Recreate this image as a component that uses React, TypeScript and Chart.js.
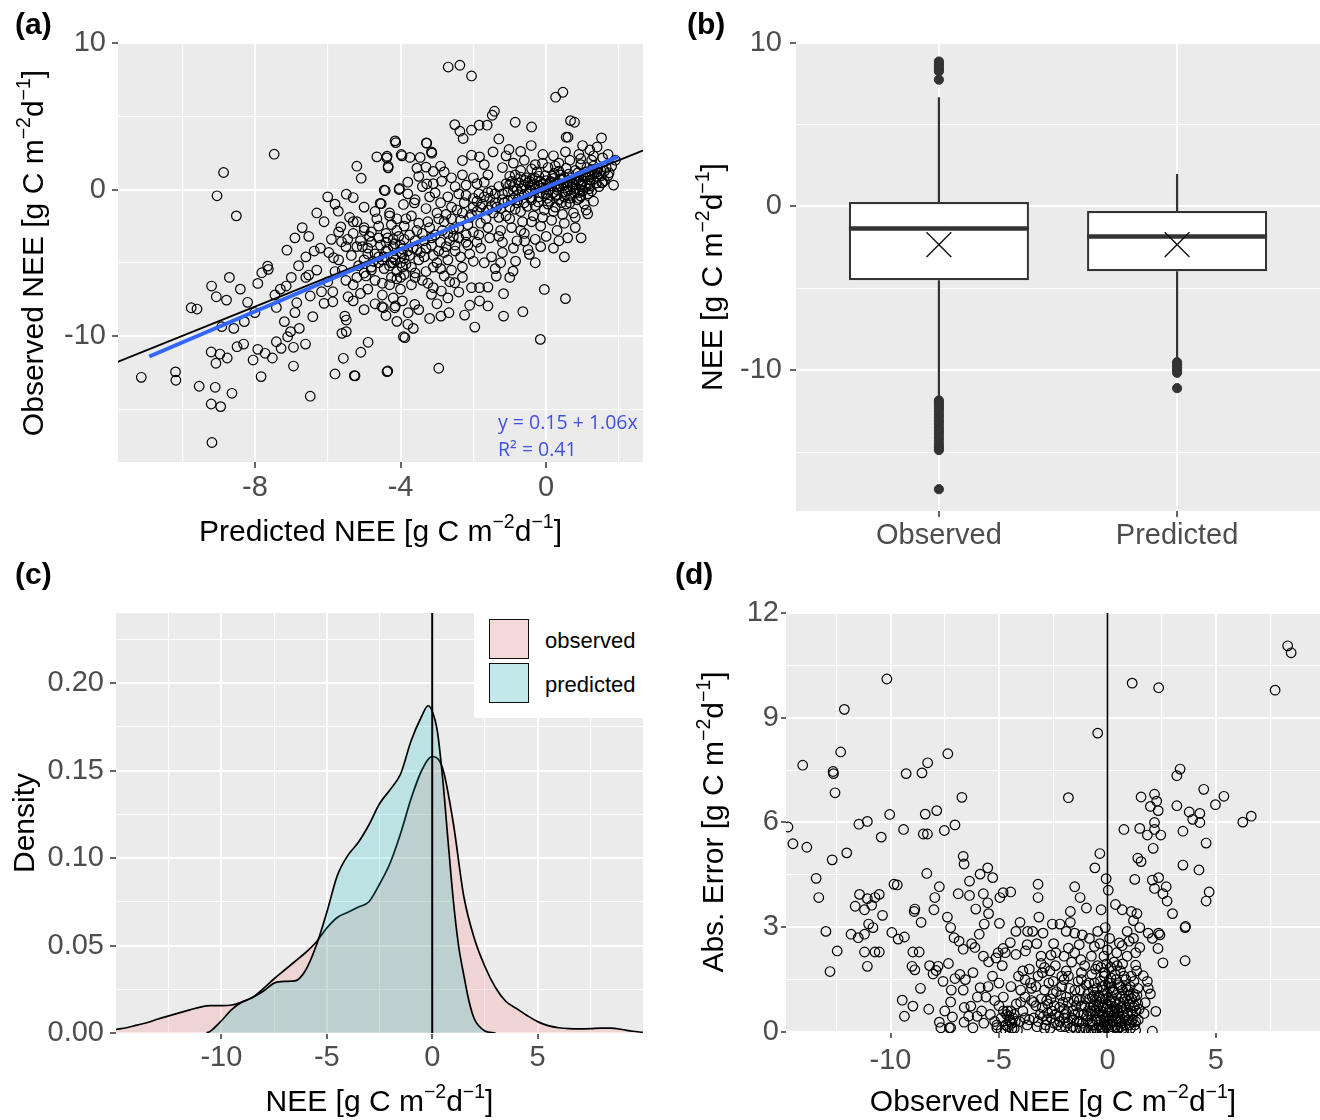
import React, { useEffect, useRef } from "react";
import { Chart, registerables } from "chart.js";

Chart.register(...registerables);

const FONT = "'Liberation Sans', Arial, Helvetica, sans-serif";
const TICK_SIZE = 29;
const TITLE_SIZE = 30;
const TICK_COLOR = "#4D4D4D";
const PANEL_BG = "#EBEBEB";

// ---------------- Panel (a): observed vs predicted ----------------
const aXMajor = [-8, -4, 0];
const aXMinor = [-10, -6, -2, 2];
const aYMajor = [-10, 0, 10];
const aYMinor = [-15, -5, 5];
const aXRange = [-11.76, 2.66];
const aYRange = [-18.6, 10.0];
// [predicted, observed]
const aPoints: [number, number][] = [
  [-7.47, 2.41], [-8.86, 1.16], [-9.04, -0.43], [-8.51, -1.8], [-6.52, -3.2], [-7.12, -4.14], [-6.37, -4.2],
  [-5.97, -4.3], [-5.84, -4.66], [-7.65, -5.23], [-7.63, -5.45], [-7.81, -5.68], [-7.92, -6.41], [-6.52, -5.84],
  [-7.14, -6.59], [-9.19, -6.59], [-9.06, -7.32], [-8.78, -7.55], [-9.75, -8.07], [-9.59, -8.16], [-7.45, -7.2],
  [-7.41, -8.05], [-6.85, -7.73], [-6.48, -7.27], [-6.17, -6.98], [-5.86, -6.98], [-6.1, -7.77], [-5.86, -7.66],
  [-6.41, -8.68], [-7.19, -9.02], [-7.02, -9.7], [-6.78, -9.48], [-8.29, -9.02], [-8.58, -9.48], [-8.91, -9.36],
  [-7.41, -10.39], [-7.1, -10.05], [-7.28, -10.84], [-6.94, -10.77], [-6.61, -10.55], [-8.49, -10.73],
  [-8.31, -10.55], [-7.92, -10.91], [-8.05, -11.64], [-7.72, -11.18], [-7.52, -11.5], [-9.2, -11.09],
  [-8.96, -11.23], [-8.76, -11.5], [-9.07, -11.86], [-10.18, -12.45], [-10.17, -13.02], [-11.12, -12.82],
  [-9.53, -13.43], [-9.09, -13.5], [-8.63, -13.91], [-9.2, -14.64], [-8.94, -14.82], [-9.18, -17.27],
  [-7.83, -12.77], [-6.94, -12.05], [-6.48, -14.11], [-5.8, -12.59], [-5.27, -12.7], [-5.25, -12.72],
  [-5.57, -11.52], [-5.09, -11.11], [-4.89, -10.43], [-4.35, -12.39], [-5.61, -9.82], [-5.49, -9.7],
  [-5.49, -8.91], [-5.53, -8.64], [-5.44, -7.32], [-4.51, -8.0], [-4.14, -7.95], [-3.92, -10.05],
  [-5.71, -1.48], [-5.64, -2.55], [-5.49, -0.32], [-5.3, -0.55], [-5.2, 1.59], [-5.08, 0.77], [-4.65, 2.23],
  [-4.37, 2.27], [-4.34, 1.59], [-4.45, -0.05], [-4.03, 0.07], [-4.56, -0.95], [-5.62, -3.57],
  [-4.15, 3.32], [-4.13, 3.2], [-3.96, 2.3], [-3.74, 2.19], [-3.46, 2.19], [-3.28, 3.16], [-3.14, 2.48],
  [-3.55, 1.46], [-3.3, 1.53], [-3.1, 1.24], [-4.42, -0.07], [-4.04, 0.0], [-3.8, -0.3], [-4.53, -0.97],
  [-3.92, -1.02], [-3.62, -0.91], [-3.28, 0.38], [-3.05, -0.23], [-2.87, 0.56],
  [-2.69, 8.36], [-2.37, 8.48], [-2.05, 7.75], [0.26, 6.3], [0.46, 6.64], [-1.42, 5.34], [-1.48, 5.07],
  [-2.51, 4.43], [-2.37, 3.98], [-2.28, 3.48], [-2.05, 4.05], [-1.84, 4.39], [-1.62, 4.39], [-0.85, 4.59],
  [-0.4, 4.27], [0.67, 4.7], [0.78, 4.59], [0.55, 3.57], [0.6, 3.57], [1.52, 3.52], [-3.29, 3.18],
  [-1.3, 3.45], [-1.02, 2.73], [-0.41, 3.0], [-3.15, 2.57], [-3.98, 2.39], [-4.38, 2.16], [-4.34, 1.48],
  [-2.3, 1.98], [-2.05, 2.34], [-1.83, 2.23], [-1.46, 2.57], [-0.09, 2.39], [0.53, 2.57], [1.55, 2.16],
  [1.6, 1.25], [1.73, 1.14], [1.53, 0.45], [1.85, 0.3], [1.14, -1.66], [0.91, -0.61], [0.59, -3.3],
  [0.96, -3.3], [-0.46, -4.43], [-0.05, -6.82], [0.53, -7.45], [-0.16, -10.23], [-0.64, -8.34],
  [-1.17, -8.64], [-1.17, -7.11], [-1.96, -9.39], [-2.24, -8.57], [-2.67, -8.41], [-2.89, -8.64],
  [-3.65, -9.48], [-3.88, -10.11], [-2.95, -12.2], [-4.37, -12.43], [-1.6, -7.95], [-1.83, -7.61],
  [-1.37, -5.91], [-1.25, -5.0], [-0.91, -5.57], [-0.84, -4.89], [-0.59, -3.52], [-2.05, -6.7],
  [-1.83, -6.7], [-1.6, -6.66], [-2.51, -6.36], [-2.88, -6.93], [-3.15, -7.16], [-3.61, -7.84],
  [-3.79, -8.41], [-4.16, -8.07], [-4.47, -8.07],
  [-4.4, -3.0], [-4.2, -3.4], [-4.0, -3.8], [-3.8, -4.2], [-3.6, -3.5], [-3.4, -3.0], [-3.2, -2.6],
  [-3.9, -2.5], [-4.1, -2.0], [-3.7, -1.8], [-3.5, -2.3], [-3.3, -4.0], [-3.1, -4.5], [-3.5, -4.8],
  [-3.7, -5.3], [-3.9, -5.8], [-3.3, -5.6], [-3.0, -5.0], [-2.9, -3.6], [-2.7, -3.0], [-2.8, -2.2],
  [-3.0, -1.6], [-2.6, -1.2], [-2.4, -2.6], [-2.5, -4.2], [-2.7, -4.8], [-2.3, -5.3], [-2.2, -3.6],
  [-2.0, -2.9], [-2.1, -1.9], [-1.9, -0.8], [-2.2, -0.4], [-2.5, 0.2], [-2.7, -0.5], [-3.3, -1.3],
  [-3.6, -0.7], [-4.3, -1.6], [-4.6, -2.5], [-4.8, -3.6], [-4.6, -4.6], [-4.2, -5.0], [-4.0, -6.0],
  [-3.7, -6.5], [-3.4, -6.2], [-3.1, -6.7], [-2.8, -5.9], [-4.5, -6.4], [-4.8, -5.5], [-5.0, -4.8],
  [-5.2, -3.9], [-5.0, -2.8], [-5.3, -2.2], [-5.2, -2.2], [-5.0, -2.6], [-4.8, -2.9], [-4.6, -3.3],
  [-4.4, -3.6], [-4.2, -3.9], [-4.0, -4.3], [-5.3, -3.0], [-5.1, -3.5], [-4.9, -4.0], [-4.7, -4.4],
  [-4.5, -4.8], [-4.3, -5.2], [-4.1, -5.6], [-3.9, -4.7], [-4.0, -5.0], [-4.2, -4.6], [-4.4, -4.2],
  [-4.6, -5.0], [-4.8, -5.3], [-5.0, -5.7], [-5.2, -6.0], [-4.7, -6.2], [-4.3, -6.5], [-4.0, -6.8],
  [-3.9, -3.4], [-4.1, -2.8], [-4.3, -1.8], [-4.7, -1.5], [-5.0, -1.2], [-5.4, -1.9], [-5.5, -3.9],
  [-5.7, -4.8], [-5.6, -5.5], [-5.3, -6.5], [-5.1, -7.1], [-4.9, -6.8], [-4.5, -7.2], [-4.2, -7.4],
  [-3.95, -7.6], [-4.1, -6.1], [-3.95, -5.3], [-4.25, -5.0],
  [-1.0, -1.2], [-0.9, -0.6], [-0.8, 0.0], [-0.7, -1.5], [-0.6, -0.9], [-0.5, -0.3], [-0.4, 0.3],
  [-0.3, -1.1], [-0.2, -0.5], [-0.1, 0.1], [0.0, 0.6], [0.1, -0.8], [0.2, -0.2], [0.3, 0.4], [0.4, 1.0],
  [0.5, -0.5], [0.6, 0.2], [0.7, 0.8], [0.8, 1.3], [0.9, 0.0], [1.0, 0.6], [1.1, 1.2], [1.2, 0.4],
  [1.3, 1.6], [1.4, 0.9], [-1.2, -0.3], [-1.1, 0.4], [-1.3, -1.9], [-1.4, -0.9], [-1.5, -0.1],
  [-1.6, -1.4], [-1.7, 0.5], [-1.8, -2.3], [-1.9, -1.5], [-0.85, 1.0], [-0.55, 0.8], [-0.25, 1.2],
  [0.05, 1.5], [0.35, 1.8], [0.65, 2.0], [0.95, 1.7], [1.25, 2.0], [-0.35, -1.8], [-0.05, -1.4],
  [0.25, -1.2], [0.55, -1.0], [0.85, -0.7], [1.15, -0.3], [1.45, 0.2], [-0.65, -2.2], [-0.95, -2.6],
  [-1.25, -2.8], [-1.55, -3.3], [-1.85, -3.1], [-0.15, -2.5], [0.15, -2.1], [0.45, -1.7], [0.75, -1.6],
  [1.05, -1.0], [-0.75, 0.45], [-0.45, -0.05], [-0.15, 0.55], [0.18, 0.9], [0.48, 0.3], [0.78, -0.25],
  [1.08, 0.15], [-0.3, 0.0], [0.0, -0.3], [0.3, 0.0], [0.6, 0.6], [-0.6, 0.3], [-0.9, 0.2], [0.9, 0.9],
  [1.2, 1.0], [1.5, 1.3], [-1.1, -1.8], [-1.35, -1.2], [-2.0, -1.2], [-2.3, -1.6], [-2.6, -2.0],
  [-2.4, -3.3], [-2.1, -4.4], [-1.8, -4.0], [-1.5, -4.6], [-1.2, -3.6], [-0.9, -4.0], [-0.6, -3.0],
  [-0.3, -3.4], [0.0, -3.2], [0.3, -2.8], [-2.0, 0.8], [-1.6, 1.0], [-1.2, 1.5], [-0.9, 1.8], [-0.6, 2.0],
  [-0.3, 1.7], [0.2, 2.3], [0.9, 2.4], [1.2, 2.7], [-1.7, 1.7], [-2.3, 1.0], [-2.8, 1.2], [-3.1, 0.4],
  [-2.9, -0.9], [-3.5, 0.9], [-3.8, 0.5], [-1.1, 2.3], [-0.7, 2.6], [-1.4, -5.4], [-1.0, -6.0],
  [-0.3, -5.0], [0.2, -4.0], [0.5, -4.6], [0.8, -2.6], [1.3, -0.8], [1.6, 0.6], [1.8, 1.6], [1.9, 2.0],
  [1.7, 2.4], [1.4, 2.9], [1.0, 3.0], [0.15, 0.25], [0.45, 0.7], [0.75, 0.35], [1.0, 1.0], [0.35, 1.25],
  [-0.2, 0.9], [-0.45, 0.55], [-0.75, -0.35], [-1.05, -0.75], [0.65, -0.6], [0.95, 0.3], [1.25, 1.35],
  [-1.15, -0.9], [-1.05, -0.15], [-0.95, 0.55], [-0.85, -1.35], [-0.78, -0.7], [-0.68, 0.05], [-0.58, 0.62],
  [-0.52, -1.15], [-0.42, -0.55], [-0.38, 0.75], [-0.32, 0.35], [-0.22, -0.85], [-0.18, -0.2], [-0.08, 0.4],
  [-0.02, 0.95], [0.04, -0.6], [0.08, -0.05], [0.12, 0.55], [0.22, 1.1], [0.26, -0.45], [0.32, 0.15],
  [0.38, 0.7], [0.42, -0.9], [0.52, -0.15], [0.58, 0.45], [0.62, 1.05], [0.68, -0.4], [0.72, 0.15],
  [0.82, 0.65], [0.88, 1.15], [0.92, -0.2], [0.98, 0.35], [1.02, 0.85], [1.12, 1.5], [1.18, 0.05],
  [1.22, 0.65], [1.32, 1.1], [1.38, 0.45], [1.42, 1.4], [1.52, 0.95], [-1.25, -1.3], [-1.45, -1.6],
  [-1.55, -0.6], [-1.65, -2.0], [-1.75, -1.0], [-1.85, -0.3], [-2.05, -1.7], [-2.15, -2.4], [-2.25, -0.9],
  [-2.35, -2.1], [-2.45, -1.4], [-2.55, -2.7], [-2.65, -3.5], [-2.75, -1.7], [-2.85, -2.8], [-2.95, -2.0],
  [-3.05, -3.1], [-3.15, -3.8], [-3.25, -2.2], [-3.35, -3.5], [-3.45, -4.3], [-3.55, -2.8], [-3.65, -4.0],
  [-3.75, -3.1], [-3.85, -2.0], [-3.95, -4.4], [-4.05, -3.2], [-4.15, -4.8], [-4.25, -2.4], [-4.35, -4.1],
  [-4.45, -5.4], [-4.55, -3.8], [-4.65, -2.0], [-4.75, -4.9], [-4.85, -3.2], [-4.95, -5.9], [-5.05, -3.9],
  [-5.15, -5.2], [-5.35, -4.5], [-5.45, -3.4], [-1.0, -2.0], [-0.7, -2.8], [-0.4, -2.2], [-0.1, -1.9],
  [0.2, -1.5], [0.5, -2.3], [0.8, -1.9], [1.1, -1.4], [-1.3, -3.2], [-1.6, -2.6], [-1.9, -3.6], [-2.2, -3.1],
  [-2.5, -3.8], [-2.8, -4.3], [-3.1, -5.3], [-2.0, -4.9], [-1.7, -5.0], [-1.2, -4.3], [-0.8, -3.5],
  [-0.5, -4.1], [-0.15, -3.9], [0.35, -3.5], [-2.6, -5.5], [-3.6, -6.0], [-2.3, -6.0],
  [-2.2, 0.3], [-1.9, 0.4], [-1.6, -0.2], [-1.3, 0.2], [-1.0, 0.9], [-0.7, 1.3], [-0.4, 1.4], [-0.1, 1.8],
  [0.25, 1.6], [0.55, 1.45], [0.95, 2.1], [1.3, 2.3], [-2.6, 0.8], [-2.9, 1.6], [-3.4, 0.2], [-3.2, -0.5],
  [-2.4, -0.3],
  [-6.8, -5.2], [-6.6, -6.0], [-6.3, -5.5], [-6.0, -6.3], [-5.8, -5.6], [-5.5, -6.2], [-5.3, -7.6],
  [-5.0, -8.2], [-4.7, -7.8], [-4.4, -8.6], [-4.1, -9.0], [-3.8, -9.2], [-3.5, -8.2], [-3.2, -8.8],
  [-3.0, -7.8], [-2.7, -7.4], [-2.4, -7.0], [-2.1, -7.9], [-6.9, -3.3], [-6.6, -4.6], [-6.2, -4.0],
  [-5.9, -3.4], [-5.7, -2.9], [-6.1, -2.2], [-5.8, -1.0], [-6.0, -0.5], [-6.3, -1.6], [-6.7, -2.6],
  [-7.0, -6.0], [-7.3, -6.8], [-6.9, -8.4], [-8.2, -7.7], [-8.0, -8.4], [-8.4, -6.8], [-8.7, -6.0],
  [-4.35, -3.3], [-4.15, -3.7], [-3.95, -4.05], [-3.75, -4.5], [-3.55, -4.1], [-3.35, -4.6], [-3.15, -3.3],
  [-2.95, -4.2], [-2.75, -3.9], [-2.55, -3.2], [-2.35, -4.6], [-2.15, -3.8], [-3.85, -5.1], [-3.6, -5.7],
  [-3.25, -6.4], [-2.9, -5.4], [-2.65, -6.3], [-4.45, -4.6], [-4.25, -6.0], [-4.9, -4.4],
  [0.0, 0.2], [0.1, 0.45], [0.2, 0.75], [0.3, -0.35], [0.4, 0.25], [0.5, 0.85], [0.6, -0.1], [0.7, 0.5],
  [0.8, 0.05], [0.9, 0.6], [1.0, -0.1], [1.1, 0.85], [1.2, 0.25], [1.3, 0.7], [1.4, 1.2], [-0.1, -0.25],
  [-0.2, 0.25], [-0.3, 0.75], [-0.4, -0.7], [-0.5, 0.45], [-0.6, -0.35], [-0.7, 0.85], [-0.8, -0.9],
  [-0.9, -0.1], [-1.0, 0.35], [0.05, -1.0], [0.35, -0.7], [0.65, -0.9], [0.95, -0.45], [1.25, -0.1],
  [1.55, 0.5], [1.7, 0.95], [1.65, 1.5], [-1.2, -0.7], [-1.4, -0.3], [-1.5, -1.1], [-1.7, -0.5],
  [-1.8, -1.2], [-2.0, -0.6],
];
const aOneToOneX = [-13, 4];
const aOneToOneY = [-13, 4];
const aFitX = [-10.9, 1.98];
const aFitY = [-11.4, 2.25];

// ---------------- Panel (b): box plots ----------------
const bCats = ["Observed", "Predicted"];
const bQ1 = [-4.51, -3.96];
const bMedian = [-1.35, -1.83];
const bQ3 = [0.27, -0.28];
const bWhiskerLow = [-11.79, -9.29];
const bWhiskerHigh = [6.66, 1.98];
const bMean = [-2.33, -2.33];
const bOutliersObserved = [8.85, 8.7, 8.55, 8.4, 8.25, 7.74, -11.85, -11.97, -12.12, -12.3, -12.48, -12.7,
  -12.88, -13.1, -13.28, -13.5, -13.7, -13.88, -14.1, -14.3, -14.52, -14.7, -14.88, -17.27];
const bOutliersPredicted = [-9.51, -9.66, -9.83, -10.0, -10.16, -11.1];
const bYMajor = [-10, 0, 10];
const bYMinor = [-15, -5, 5];
const bYRange = [-18.6, 9.95];
const bBoxWidth = 0.756;

// ---------------- Panel (c): densities ----------------
const cObsX = [-15, -14.5, -14, -13.5, -13, -12.5, -12, -11.5, -11, -10.5, -10, -9.5, -9, -8.5, -8, -7.5, -7,
  -6.5, -6, -5.5, -5, -4.5, -4, -3.5, -3, -2.5, -2, -1.5, -1, -0.5, 0, 0.5, 1, 1.5, 2, 2.5, 3, 3.5, 4, 4.5,
  5, 5.5, 6, 6.5, 7, 7.5, 8, 8.5, 9, 9.5, 10];
const cObsY = [0.002, 0.003, 0.0045, 0.006, 0.008, 0.0098, 0.0115, 0.0132, 0.0148, 0.0156, 0.0156, 0.016,
  0.0178, 0.0205, 0.0255, 0.031, 0.036, 0.041, 0.046, 0.052, 0.06, 0.066, 0.069, 0.072, 0.075, 0.085,
  0.097, 0.114, 0.134, 0.15, 0.158, 0.151, 0.12, 0.078, 0.054, 0.038, 0.026, 0.018, 0.014, 0.01, 0.0065,
  0.0042, 0.003, 0.0025, 0.0024, 0.0025, 0.0028, 0.0028, 0.002, 0.001, 0.0004];
const cPredX = [-10.7, -10.5, -10, -9.5, -9, -8.5, -8, -7.5, -7, -6.5, -6, -5.5, -5, -4.5, -4, -3.5, -3,
  -2.5, -2, -1.5, -1, -0.5, -0.2, 0, 0.25, 0.5, 0.75, 1, 1.25, 1.5, 1.75, 2, 2.5, 3];
const cPredY = [0, 0.0012, 0.007, 0.0135, 0.0178, 0.0205, 0.024, 0.0285, 0.0295, 0.0298, 0.036, 0.05,
  0.069, 0.09, 0.1015, 0.109, 0.119, 0.131, 0.139, 0.148, 0.167, 0.181, 0.187, 0.184, 0.172, 0.145, 0.11,
  0.076, 0.05, 0.033, 0.018, 0.008, 0.0012, 0];
const cXMajor = [-10, -5, 0, 5];
const cXMinor = [-12.5, -7.5, -2.5, 2.5, 7.5];
const cYMajor = [0, 0.05, 0.1, 0.15, 0.2];
const cYMinor = [0.025, 0.075, 0.125, 0.175, 0.225];
const cXRange = [-15, 10];
const cYRange = [0, 0.24];
const cZeroX = 0;

// ---------------- Panel (d): absolute error ----------------
// [observed, absolute error]
const dPoints: [number, number][] = [
  [8.31, 11.06], [8.47, 10.86], [7.73, 9.79], [1.14, 9.99], [2.36, 9.86], [-10.17, 10.11], [-12.13, 9.24],
  [-0.45, 8.56], [-12.3, 8.02], [-7.36, 7.97], [-14.05, 7.64], [-12.65, 7.46], [-12.63, 7.4], [-8.29, 7.71],
  [-8.55, 7.42], [-9.28, 7.4], [-12.56, 6.85], [-1.8, 6.71], [-6.71, 6.72], [3.35, 7.53], [3.2, 7.34],
  [4.44, 6.95], [5.37, 6.75], [4.98, 6.51], [1.55, 6.73], [2.17, 6.81], [2.27, 6.61], [1.98, 6.46],
  [3.2, 6.48], [2.34, 6.34], [3.77, 6.3], [3.93, 6.09], [4.26, 6.26], [4.26, 6.0], [6.24, 6.01], [6.63, 6.18],
  [2.17, 6.0], [2.17, 5.8], [2.46, 5.64], [1.84, 5.64], [1.49, 5.83], [0.76, 5.8], [3.48, 5.75], [4.55, 5.41],
  [2.11, 5.26], [1.4, 4.98], [1.55, 4.88], [3.48, 4.78], [4.22, 4.64], [-0.35, 5.11], [-0.58, 4.7],
  [-0.06, 4.39], [0.04, 4.06], [1.26, 4.37], [2.07, 4.35], [2.36, 4.42], [2.17, 4.11], [2.56, 3.96],
  [2.71, 4.16], [4.69, 4.01], [4.55, 3.75], [2.75, 3.75], [3.0, 3.39], [3.58, 2.99], [3.6, 3.02],
  [3.58, 2.04], [2.56, 1.98], [2.33, 2.39], [2.42, 2.78], [2.07, 0.02], [2.23, 0.59],
  [-14.73, 5.87], [-14.5, 5.39], [-13.86, 5.29], [-12.69, 4.93], [-12.02, 5.13], [-11.46, 5.95],
  [-11.07, 6.03], [-10.04, 6.23], [-10.43, 5.58], [-9.4, 5.8], [-8.4, 6.24], [-7.87, 6.34], [-7.03, 5.93],
  [-7.52, 5.77], [-8.49, 5.67], [-8.3, 5.67], [-13.43, 4.4], [-13.31, 3.85], [-12.98, 2.88], [-12.79, 1.73],
  [-12.46, 2.32], [-11.82, 2.8], [-11.63, 3.6], [-11.43, 3.94], [-11.07, 3.82], [-10.87, 3.63],
  [-10.72, 3.85], [-10.52, 3.94], [-11.2, 3.5], [-10.37, 3.34], [-11.01, 3.09], [-10.81, 2.99],
  [-11.2, 2.8], [-11.49, 2.7], [-11.2, 2.29], [-10.72, 2.29], [-10.52, 2.29], [-11.07, 1.88],
  [-9.84, 4.23], [-9.69, 4.21], [-9.94, 2.85], [-9.65, 2.66], [-9.36, 2.72], [-8.91, 3.45], [-8.88, 3.52],
  [-8.59, 3.14], [-8.97, 2.29], [-8.68, 2.29], [-9.01, 1.88], [-8.88, 1.78], [-8.62, 1.25], [-8.33, 4.54],
  [-7.96, 3.85], [-7.75, 4.16], [-8.0, 3.5], [-7.38, 3.29], [-7.23, 2.99], [-6.88, 3.96], [-6.65, 5.03],
  [-6.61, 4.81], [-6.36, 4.32], [-6.36, 3.91], [-6.07, 3.52], [-5.87, 4.52], [-5.52, 4.7], [-5.29, 4.42],
  [-5.72, 3.96], [-5.52, 3.7], [-5.48, 3.39], [-4.96, 3.85], [-4.81, 3.99], [-4.46, 4.01], [-4.98, 3.11],
  [-5.68, 3.09], [-5.91, 2.8], [-7.07, 2.7], [-6.84, 2.6], [-6.65, 2.37], [-6.26, 2.53], [-6.11, 2.42],
  [-7.81, 1.88], [-7.33, 1.96], [-7.9, 1.76], [-8.04, 1.66], [-8.24, 0.65], [-9.46, 0.91], [-8.97, 0.74],
  [-9.36, 0.45], [-7.75, 0.28], [-7.29, 0.12], [-7.23, 0.12], [-7.68, 0.12], [-7.15, 0.43], [-6.61, 0.28],
  [-6.2, 0.12], [-6.3, 0.74], [-6.65, 1.2], [-7.23, 0.86], [-7.58, 1.45], [-7.03, 1.53], [-6.55, 1.5],
  [-5.87, 1.27], [-6.01, 0.45], [-5.1, 0.12],
  [-3.2, 4.23], [-3.2, 3.85], [-3.16, 3.29], [-1.51, 4.16], [-1.71, 3.45], [-1.71, 3.14], [-1.26, 3.85],
  [-0.97, 3.55], [-0.29, 3.5], [0.37, 3.65], [0.68, 3.5], [1.1, 3.45], [1.36, 3.39], [1.2, 3.19],
  [1.49, 2.99], [1.88, 2.83], [2.07, 2.68], [2.36, 2.83], [0.91, 2.88], [1.2, 2.68], [0.68, 2.47],
  [1.49, 2.42], [1.3, 1.91], [1.65, 1.61], [1.84, 1.45], [1.88, 1.25], [1.98, 1.09], [1.74, 0.84],
  [1.69, 0.53], [-4.22, 2.88], [-4.48, 2.56], [-4.81, 2.39], [-4.71, 2.27], [-5.04, 2.27], [-5.14, 2.12],
  [-5.48, 2.01], [-5.72, 2.17], [-4.03, 3.14], [-3.68, 2.88], [-3.45, 2.88], [-2.97, 2.83], [-2.54, 3.09],
  [-2.19, 3.09], [-1.9, 2.88], [-1.51, 2.83], [-1.16, 2.78], [-0.83, 2.68], [-0.45, 2.88], [-0.1, 2.99],
  [-0.35, 2.53], [0.1, 2.68], [-4.22, 2.22], [-3.78, 2.32], [-3.26, 2.53], [-3.06, 2.17], [-3.06, 1.96],
  [-2.48, 2.53], [-2.38, 2.27], [-2.0, 2.17], [-1.51, 2.27], [-1.22, 2.07], [-0.74, 2.17], [-0.16, 2.17],
  [0.43, 2.27], [0.91, 2.17], [1.3, 2.27],
  [-5.3, 1.6], [-5.0, 1.4], [-4.8, 1.0], [-4.6, 0.6], [-4.5, 0.3], [-4.4, 0.1], [-4.7, 0.2], [-4.3, 0.5],
  [-4.9, 0.4], [-4.2, 0.8], [-4.0, 1.2], [-3.8, 1.5], [-3.6, 1.8], [-3.9, 0.6], [-3.7, 0.2], [-3.5, 0.9],
  [-3.3, 1.3], [-3.1, 0.5], [-3.0, 1.7], [-2.9, 0.1], [-2.8, 0.9], [-2.7, 1.4], [-2.6, 0.4], [-2.5, 1.1],
  [-2.4, 1.9], [-2.3, 0.2], [-2.2, 0.7], [-2.1, 1.3], [-2.0, 0.4], [-1.9, 1.0], [-1.8, 1.6], [-1.7, 0.1],
  [-1.6, 0.6], [-1.5, 1.2], [-1.4, 0.3], [-1.3, 0.9], [-1.2, 1.5], [-1.1, 0.5], [-1.0, 0.1], [-0.9, 1.1],
  [-0.8, 0.7], [-0.7, 0.3], [-0.6, 1.4], [-0.5, 0.9], [-0.4, 0.2], [-0.3, 0.6], [-0.2, 1.2], [-0.1, 0.4],
  [0.0, 0.8], [0.1, 0.2], [0.2, 1.0], [0.3, 0.5], [0.4, 1.5], [0.5, 0.1], [0.6, 0.7], [0.7, 1.2], [0.8, 0.4],
  [0.9, 0.9], [1.0, 0.2], [1.1, 0.6], [1.2, 1.1], [1.3, 0.3], [1.4, 0.8], [-3.4, 0.4], [-2.45, 0.75],
  [-1.95, 0.15], [-1.45, 0.75], [-0.95, 0.45], [-0.45, 0.55], [0.05, 0.35], [0.55, 0.45], [1.05, 1.3],
  [-0.25, 0.05], [0.25, 0.05], [-0.75, 0.05], [0.75, 0.05], [-1.25, 0.1], [-2.75, 0.55], [-3.25, 0.15],
  [-0.15, 1.6], [0.15, 1.4], [0.45, 1.9], [-0.55, 1.8], [-1.05, 1.9], [-1.65, 2.0], [-0.35, 1.0],
  [0.35, 0.85], [0.65, 0.25], [0.95, 0.55], [1.25, 0.75], [-0.65, 0.75], [-1.55, 0.35], [-2.15, 1.05],
  [-2.65, 1.75], [-3.55, 1.4], [-4.05, 0.3], [-4.45, 1.3], [-4.85, 1.9], [-5.4, 0.5], [-5.6, 1.0],
  [-5.2, 0.9], [-5.8, 0.6], [-6.2, 1.7], [-6.6, 0.7], [-7.2, 1.2], [-0.05, 1.95], [0.3, 2.0], [-0.85, 1.4],
  [-1.9, 1.75], [-2.9, 1.2], [-3.8, 1.0], [-4.1, 1.6], [1.1, 1.6], [0.85, 1.5], [0.6, 1.75], [-0.2, 0.7],
  [0.2, 0.6], [0.1, 1.25], [-0.1, 0.95], [-0.5, 0.35], [0.45, 0.65], [0.75, 0.85], [1.15, 0.35],
  [-4.7, 0.05], [-4.6, 0.15], [-4.55, 0.45], [-4.45, 0.6], [-4.4, 0.25], [-4.35, 0.4], [-4.3, 0.1],
  [-4.25, 0.3], [-4.5, 0.35], [-4.65, 0.5], [-2.95, 0.45], [-2.85, 0.2], [-2.75, 0.8], [-2.65, 0.1],
  [-2.55, 0.6], [-2.45, 0.25], [-2.35, 1.15], [-2.25, 0.45], [-2.15, 0.15], [-2.05, 0.85], [-1.95, 0.5],
  [-1.85, 0.25], [-1.75, 1.25], [-1.65, 0.4], [-1.55, 0.9], [-1.45, 0.1], [-1.35, 0.55], [-1.25, 1.2],
  [-1.15, 0.25], [-1.05, 0.75], [-0.98, 1.35], [-0.92, 0.35], [-0.88, 0.05], [-0.82, 0.95], [-0.78, 0.5],
  [-0.72, 1.65], [-0.68, 0.2], [-0.62, 1.05], [-0.58, 0.6], [-0.52, 0.1], [-0.48, 1.25], [-0.42, 0.75],
  [-0.38, 0.3], [-0.32, 1.45], [-0.28, 0.15], [-0.22, 0.95], [-0.18, 0.45], [-0.12, 1.7], [-0.08, 0.2],
  [-0.02, 1.1], [0.02, 0.55], [0.06, 0.05], [0.12, 0.85], [0.16, 1.55], [0.22, 0.3], [0.26, 1.2],
  [0.32, 0.7], [0.36, 0.15], [0.42, 1.05], [0.46, 0.4], [0.52, 1.35], [0.56, 0.85], [0.62, 0.15],
  [0.66, 1.0], [0.72, 0.55], [0.76, 1.6], [0.82, 0.2], [0.86, 0.7], [0.92, 1.2], [0.96, 0.35], [1.02, 0.8],
  [1.06, 0.1], [1.12, 0.95], [1.16, 0.5], [1.22, 1.45], [1.26, 0.2], [1.32, 0.6], [1.36, 1.05], [1.42, 0.35],
  [1.46, 0.65], [-3.6, 0.35], [-3.5, 1.25], [-3.3, 0.75], [-3.2, 1.6], [-3.05, 0.95], [-3.9, 1.75],
  [-4.0, 0.85], [-5.0, 0.75], [-5.2, 0.3], [-5.5, 1.3], [-5.7, 0.25], [-6.0, 1.0], [-6.4, 0.45],
  [-6.8, 1.65], [-7.5, 0.6], [-8.2, 1.9], [-3.7, 2.5], [-2.6, 2.2], [-1.8, 2.4], [-1.3, 2.5], [-0.6, 2.45],
  [0.0, 2.35], [0.55, 2.55], [1.0, 2.6], [-0.3, 1.85], [0.7, 1.95], [1.35, 1.75], [-1.2, 1.7], [-2.0, 1.5],
  [-2.5, 1.45], [-0.05, 0.65], [0.05, 1.4], [-0.15, 0.3], [0.15, 0.9], [-0.25, 1.3], [0.25, 0.45],
  [0.35, 1.65], [-0.35, 0.85], [0.45, 0.1], [-0.45, 1.9],
  [-0.9, 0.6], [-0.8, 0.25], [-0.7, 1.0], [-0.6, 0.05], [-0.5, 0.7], [-0.4, 1.05], [-0.3, 0.35], [-0.2, 0.1],
  [-0.1, 1.35], [0.0, 0.45], [0.1, 0.65], [0.2, 0.15], [0.3, 1.15], [0.4, 0.3], [0.5, 0.55], [0.6, 1.3],
  [0.7, 0.1], [0.8, 0.95], [0.9, 0.5], [1.0, 1.05], [1.1, 0.3], [1.2, 0.7], [1.3, 0.05], [1.4, 1.25],
  [-1.6, 0.15], [-1.5, 0.5], [-1.4, 0.95], [-1.3, 0.3], [-1.2, 0.75], [-1.1, 0.05], [-1.0, 0.95],
  [-2.2, 0.3], [-2.0, 0.65], [-1.8, 0.85], [-2.4, 0.5], [-2.6, 0.95], [-2.8, 0.35], [-3.0, 0.7],
  [-3.2, 0.3], [-3.4, 0.85], [-3.8, 0.4], [-4.8, 0.6], [-5.1, 0.2], [-4.15, 0.05], [-4.9, 0.05],
  [-0.35, 0.05], [0.55, 0.3], [0.15, 1.85], [-0.65, 1.2], [-1.35, 1.45], [0.85, 1.3], [1.25, 1.0],
  [-0.25, 0.5], [0.35, 0.6], [-0.05, 0.15], [0.65, 0.7], [-0.75, 0.6], [-1.9, 0.55], [-2.1, 1.6],
  [-2.9, 1.85],
];
const dXMajor = [-10, -5, 0, 5];
const dXMinor = [-12.5, -7.5, -2.5, 2.5, 7.5];
const dYMajor = [0, 3, 6, 9, 12];
const dYMinor = [1.5, 4.5, 7.5, 10.5];
const dXRange = [-14.82, 9.8];
const dYRange = [-0.03, 12.0];
const dZeroX = 0;

// ---------------- helpers ----------------
const bgPlugin = {
  id: "panelBg",
  beforeDraw(chart: any) {
    const { ctx, chartArea: a } = chart;
    ctx.save();
    ctx.fillStyle = PANEL_BG;
    ctx.fillRect(a.left, a.top, a.right - a.left, a.bottom - a.top);
    ctx.restore();
  },
};

type AxisSpec = {
  range: number[];
  major: number[];
  minor: number[];
  size: number;
  horizontal: boolean;
  tickLength: number;
  padding: number;
  format: (v: number) => string;
};

function makeAxis(s: AxisSpec) {
  const all = [...s.major, ...s.minor].sort((a, b) => a - b);
  const isMajor = (v: number) => s.major.includes(v);
  return {
    type: "linear",
    position: s.horizontal ? "bottom" : "left",
    min: s.range[0],
    max: s.range[1],
    offset: false,
    afterBuildTicks: (scale: any) => {
      scale.ticks = all.map((value) => ({ value }));
    },
    afterFit: (scale: any) => {
      if (s.horizontal) scale.height = s.size;
      else scale.width = s.size;
    },
    grid: {
      offset: false,
      color: "#FFFFFF",
      lineWidth: (ctx: any) => (ctx.tick && isMajor(ctx.tick.value) ? 2 : 1.1),
      drawTicks: true,
      tickLength: s.tickLength,
      tickWidth: 1.5,
      tickColor: (ctx: any) => (ctx.tick && isMajor(ctx.tick.value) ? "#333333" : "rgba(0,0,0,0)"),
    },
    border: { display: false },
    ticks: {
      autoSkip: false,
      maxRotation: 0,
      minRotation: 0,
      padding: s.padding,
      color: TICK_COLOR,
      font: { family: FONT, size: TICK_SIZE },
      callback: (v: number) => (isMajor(v) ? s.format(v) : ""),
    },
  };
}

function baseOptions(padTop: number, x: any, y: any) {
  return {
    responsive: false,
    maintainAspectRatio: false,
    animation: false,
    devicePixelRatio: 1,
    events: [],
    layout: { autoPadding: false, padding: { top: padTop, left: 0, right: 0, bottom: 0 } },
    plugins: { legend: { display: false }, tooltip: { enabled: false } },
    scales: { x, y },
  };
}

const pts = (pairs: [number, number][]) => pairs.map(([x, y]) => ({ x, y }));
const zipXY = (xs: number[], ys: number[]) => xs.map((x, i) => ({ x, y: ys[i] }));

function lineDs(data: any[], color: string, width: number, order: number) {
  return {
    type: "line",
    data,
    borderColor: color,
    borderWidth: width,
    pointRadius: 0,
    fill: false,
    tension: 0,
    order,
  };
}

function circleDs(data: any[], order: number) {
  return {
    type: "scatter",
    data,
    pointRadius: 4.8,
    pointBorderWidth: 1.2,
    pointBorderColor: "#000000",
    pointBackgroundColor: "rgba(0,0,0,0)",
    order,
  };
}

// ---------------- chart configs ----------------
function configA() {
  return {
    type: "scatter",
    data: {
      datasets: [
        lineDs(zipXY(aFitX, aFitY), "#3366FF", 4, 0),
        lineDs(zipXY(aOneToOneX, aOneToOneY), "#000000", 2, 1),
        circleDs(pts(aPoints), 2),
      ],
    },
    options: baseOptions(
      43,
      makeAxis({ range: aXRange, major: aXMajor, minor: aXMinor, size: 98, horizontal: true, tickLength: 6, padding: 3, format: (v) => String(v) }),
      makeAxis({ range: aYRange, major: aYMajor, minor: aYMinor, size: 118, horizontal: false, tickLength: 6, padding: 6, format: (v) => String(v) })
    ),
    plugins: [bgPlugin],
  };
}

function configB() {
  const half = bBoxWidth / 2;
  const datasets: any[] = [];
  datasets.push({
    type: "scatter",
    data: [
      ...bOutliersObserved.map((y) => ({ x: 1, y })),
      ...bOutliersPredicted.map((y) => ({ x: 2, y })),
    ],
    pointRadius: 4.6,
    pointBorderWidth: 1,
    pointBorderColor: "#333333",
    pointBackgroundColor: "#333333",
    order: 5,
  });
  bCats.forEach((_, i) => {
    datasets.push(lineDs([{ x: i + 1, y: bQ3[i] }, { x: i + 1, y: bWhiskerHigh[i] }], "#333333", 2.2, 4));
    datasets.push(lineDs([{ x: i + 1, y: bQ1[i] }, { x: i + 1, y: bWhiskerLow[i] }], "#333333", 2.2, 4));
    datasets.push(lineDs([{ x: i + 1 - half, y: bMedian[i] }, { x: i + 1 + half, y: bMedian[i] }], "#333333", 4.5, 2));
  });
  datasets.push({
    type: "bar",
    data: bCats.map((_, i) => ({ x: i + 1, y: [bQ1[i], bQ3[i]] })),
    backgroundColor: "#FFFFFF",
    borderColor: "#333333",
    borderWidth: 2.2,
    borderSkipped: false,
    barPercentage: bBoxWidth,
    categoryPercentage: 1,
    order: 3,
  });
  datasets.push({
    type: "scatter",
    data: bCats.map((_, i) => ({ x: i + 1, y: bMean[i] })),
    pointStyle: "crossRot",
    pointRadius: 17.5,
    pointBorderWidth: 1.4,
    pointBorderColor: "#111111",
    order: 1,
  });
  return {
    type: "scatter",
    data: { datasets },
    options: baseOptions(
      43.5,
      makeAxis({ range: [0.4, 2.6], major: [1, 2], minor: [], size: 49, horizontal: true, tickLength: 6, padding: 2, format: (v) => bCats[Math.round(v) - 1] }),
      makeAxis({ range: bYRange, major: bYMajor, minor: bYMinor, size: 136, horizontal: false, tickLength: 6, padding: 8, format: (v) => String(v) })
    ),
    plugins: [bgPlugin],
  };
}

function configC() {
  const dens = (xs: number[], ys: number[], fillColor: string, order: number) => ({
    type: "line",
    data: zipXY(xs, ys),
    borderColor: "#000000",
    borderWidth: 1.7,
    backgroundColor: fillColor,
    fill: "origin",
    pointRadius: 0,
    cubicInterpolationMode: "monotone",
    order,
  });
  return {
    type: "scatter",
    data: {
      datasets: [
        lineDs([{ x: cZeroX, y: cYRange[0] }, { x: cZeroX, y: cYRange[1] }], "#000000", 2, 0),
        dens(cPredX, cPredY, "rgba(0,191,196,0.2)", 1),
        dens(cObsX, cObsY, "rgba(248,118,109,0.2)", 2),
      ],
    },
    options: baseOptions(
      53,
      makeAxis({ range: cXRange, major: cXMajor, minor: cXMinor, size: 87, horizontal: true, tickLength: 6, padding: 2, format: (v) => String(v) }),
      makeAxis({ range: cYRange, major: cYMajor, minor: cYMinor, size: 116, horizontal: false, tickLength: 6, padding: 6, format: (v) => v.toFixed(2) })
    ),
    plugins: [bgPlugin],
  };
}

function configD() {
  return {
    type: "scatter",
    data: {
      datasets: [
        lineDs([{ x: dZeroX, y: dYRange[0] }, { x: dZeroX, y: dYRange[1] }], "#000000", 1.6, 0),
        circleDs(pts(dPoints), 1),
      ],
    },
    options: baseOptions(
      53,
      makeAxis({ range: dXRange, major: dXMajor, minor: dXMinor, size: 87, horizontal: true, tickLength: 5, padding: 6, format: (v) => String(v) }),
      makeAxis({ range: dYRange, major: dYMajor, minor: dYMinor, size: 126, horizontal: false, tickLength: 5, padding: 2, format: (v) => String(v) })
    ),
    plugins: [bgPlugin],
  };
}

function ChartBox({ left, top, width, height, make }: any) {
  const ref = useRef<HTMLCanvasElement>(null);
  useEffect(() => {
    const chart = new Chart(ref.current as HTMLCanvasElement, make());
    return () => chart.destroy();
  }, []);
  return (
    <canvas
      ref={ref}
      width={width}
      height={height}
      style={{ position: "absolute", left, top, width, height, display: "block" }}
    />
  );
}

// ---------------- text helpers ----------------
const BASE = 0.8465; // baseline offset (em) for line-height 1 in Liberation Sans

function Sup({ children, size }: any) {
  return (
    <span style={{ fontSize: "0.65em", verticalAlign: `${Math.round(size * 0.43)}px`, lineHeight: 0 }}>{children}</span>
  );
}

function unitTitle(prefix: string, size: number) {
  return (
    <>
      {prefix} [g C m<Sup size={size}>−2</Sup>d<Sup size={size}>−1</Sup>]
    </>
  );
}

function HText({ cx, left, baseline, size, weight, color, family, children }: any) {
  const top = baseline - BASE * size;
  const common: any = {
    position: "absolute",
    top,
    fontSize: size,
    lineHeight: `${size}px`,
    whiteSpace: "nowrap",
    fontWeight: weight || "normal",
    color: color || "#000000",
    fontFamily: family || FONT,
  };
  if (cx !== undefined) {
    return <div style={{ ...common, left: cx - 400, width: 800, textAlign: "center" }}>{children}</div>;
  }
  return <div style={{ ...common, left }}>{children}</div>;
}

function VText({ baselineX, cy, size, children }: any) {
  const cx = baselineX - (BASE - 0.5) * size;
  return (
    <div
      style={{
        position: "absolute",
        left: cx - 300,
        top: cy - size / 2,
        width: 600,
        height: size,
        fontSize: size,
        lineHeight: `${size}px`,
        textAlign: "center",
        whiteSpace: "nowrap",
        color: "#000000",
        fontFamily: FONT,
        transform: "rotate(-90deg)",
        transformOrigin: "50% 50%",
      }}
    >
      {children}
    </div>
  );
}

export default function App() {
  const T = TITLE_SIZE;
  return (
    <div
      style={{
        position: "absolute",
        left: 0,
        top: 0,
        width: 1320,
        height: 1120,
        background: "#FFFFFF",
        overflow: "hidden",
        fontFamily: FONT,
      }}
    >
      <ChartBox left={0} top={0} width={643} height={560} make={configA} />
      <ChartBox left={660} top={0} width={660} height={560} make={configB} />
      <ChartBox left={0} top={560} width={643} height={560} make={configC} />
      <ChartBox left={660} top={560} width={660} height={560} make={configD} />

      {/* panel letters */}
      <HText left={15} baseline={34} size={30} weight="bold">(a)</HText>
      <HText left={687} baseline={34} size={30} weight="bold">(b)</HText>
      <HText left={15} baseline={584} size={30} weight="bold">(c)</HText>
      <HText left={675} baseline={584} size={30} weight="bold">(d)</HText>

      {/* panel (a) */}
      <HText cx={380.5} baseline={541} size={T}>{unitTitle("Predicted NEE", T)}</HText>
      <VText baselineX={43} cy={252.5} size={T}>{unitTitle("Observed NEE", T)}</VText>
      <HText left={498} baseline={429} size={19.5} color="#3F51E0" family="'Open Sans', 'Noto Sans', sans-serif">
        y = 0.15 + 1.06x
      </HText>
      <HText left={498} baseline={456} size={19.5} color="#3F51E0" family="'Open Sans', 'Noto Sans', sans-serif">
        R² = 0.41
      </HText>

      {/* panel (b) */}
      <VText baselineX={722} cy={277} size={T}>{unitTitle("NEE", T)}</VText>

      {/* panel (c) */}
      <HText cx={379.5} baseline={1111} size={T}>{unitTitle("NEE", T)}</HText>
      <VText baselineX={34} cy={823} size={T}>Density</VText>
      <div style={{ position: "absolute", left: 474, top: 613, width: 169, height: 105, background: "#FFFFFF" }} />
      <div
        style={{
          position: "absolute",
          left: 489,
          top: 619,
          width: 40,
          height: 40,
          boxSizing: "border-box",
          background: "#F3D9D7",
          border: "1.5px solid #111111",
        }}
      />
      <div
        style={{
          position: "absolute",
          left: 489,
          top: 663,
          width: 40,
          height: 40,
          boxSizing: "border-box",
          background: "#C2E8E9",
          border: "1.5px solid #111111",
        }}
      />
      <HText left={545} baseline={649} size={22}>observed</HText>
      <HText left={545} baseline={693} size={22}>predicted</HText>

      {/* panel (d) */}
      <HText cx={1053} baseline={1111} size={T}>{unitTitle("Observed NEE", T)}</HText>
      <VText baselineX={723} cy={822} size={T}>{unitTitle("Abs. Error", T)}</VText>
    </div>
  );
}
